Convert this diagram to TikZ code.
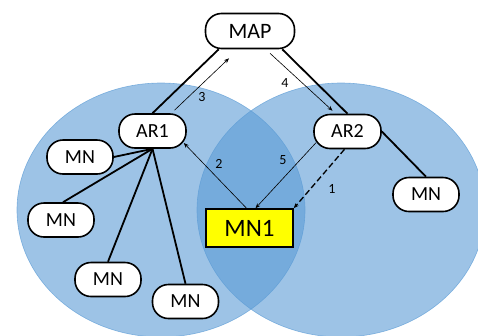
\documentclass[tikz,border=0pt]{standalone}
\usepackage{fontspec}
\setmainfont{Carlito}
\usetikzlibrary{arrows.meta,calc}

\definecolor{cellblue}{RGB}{91,155,213}
\definecolor{mnyellow}{RGB}{255,255,0}

\tikzset{every picture/.style={line width=0.75pt}}
\tikzset{
  pill/.style={draw, line width=1.6pt, fill=white, rounded corners=16pt,
    minimum width=66pt, minimum height=34pt, inner sep=0pt,
    font=\fontsize{20}{20}\selectfont},
  cell/.style={fill=cellblue, fill opacity=0.6, draw=cellblue, draw opacity=0.7, line width=0.6pt},
  link/.style={line width=1.8pt},
  msg/.style={line width=0.6pt, -{Stealth[length=5pt,width=4pt]}},
  num/.style={inner sep=0.75pt, font=\fontsize{14}{14}\selectfont},
}

\begin{document}
\begin{tikzpicture}[x=1pt,y=1pt,yscale=-1,xscale=1]
\useasboundingbox (0,0) rectangle (478,335);
\clip (0,0) rectangle (478,335);

%Cells
\path[cell] (161,210) ellipse [x radius=144, y radius=127];
\path[cell] (341,210) ellipse [x radius=144, y radius=127];

% Router nodes
\node[pill, minimum width=89pt, minimum height=35pt, font=\fontsize{22}{22}\selectfont] (map) at (250,31) {MAP};
\node[pill, minimum width=67pt] (ar1) at (152.5,131) {AR1};
\node[pill, minimum width=67pt] (ar2) at (347.5,131.5) {AR2};

% Mobile nodes
\node[pill] (mna) at (80,157) {MN};
\node[pill] (mnb) at (61,220) {MN};
\node[pill] (mnc) at (108,279.5) {MN};
\node[pill] (mnd) at (185.5,301.5) {MN};
\node[pill] (mnr) at (426,194.5) {MN};
\node[draw, line width=1.6pt, fill=mnyellow, minimum width=87pt, minimum height=38pt,
  inner sep=0pt, font=\fontsize{25}{25}\selectfont] (mn1) at (249.5,228) {MN1};

%Straight Lines
\draw[link] ($(map.south west)+(14,0)$) -- (ar1.north);
\draw[link] ($(map.south east)+(-13,0)$) -- (ar2.north);
\draw[link] (ar1.south) -- (mna.east);
\draw[link] (ar1.south) -- ($(mnb.north)+(2,0)$);
\draw[link] (ar1.south) -- (mnc.north);
\draw[link] (ar1.south) -- (mnd.north);
\draw[link] (ar2.east) -- (mnr.north);

%Signalling arrows
\draw[msg] ($(ar1.north)+(22,-3)$) -- ($(map.south)+(-21,9)$);
\draw[msg] ($(map.south)+(20,4)$) -- ($(ar2.north)+(-15,-3)$);
\draw[msg] ($(mn1.north)+(-3,0)$) -- ($(ar1.east)+(-3,12)$);
\draw[msg] ($(ar2.west)+(3,11)$) -- ($(mn1.north)+(6,0)$);
\draw[msg, line width=1.3pt, dash pattern=on 6pt off 3pt] ($(ar2.south)+(-3,0)$) -- (mn1.north east);

% Text Node
\node[num] (n3) at (202,97) {3};
\node[num] (n4) at (285,83) {4};
\node[num] (n2) at (219,164) {2};
\node[num] (n5) at (283,160) {5};
\node[num] (n1) at (332,189) {1};

\end{tikzpicture}
\end{document}
